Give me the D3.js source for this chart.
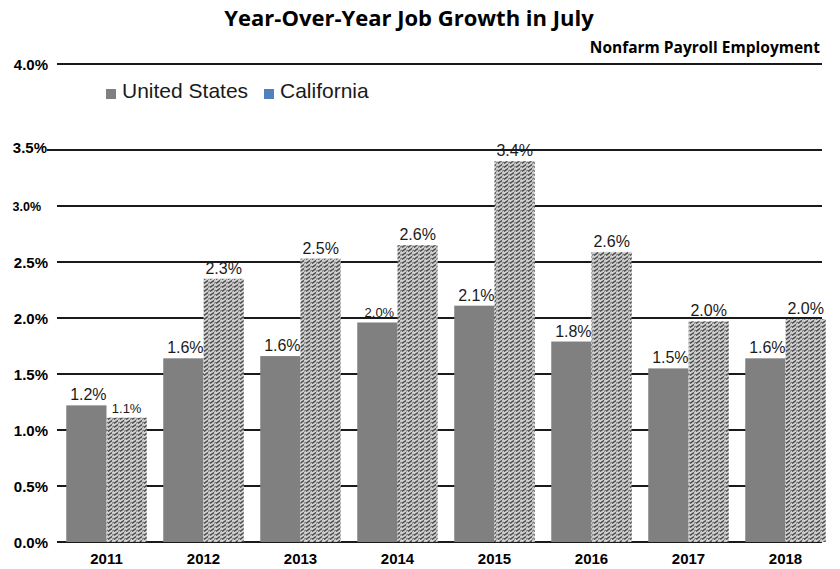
<!DOCTYPE html>
<html>
<head>
<meta charset="utf-8">
<style>
  body { margin: 0; background: #fff; }
  svg text { font-family: "Liberation Sans", Arial, sans-serif; }
</style>
</head>
<body>
<svg id="chart" width="840" height="569"></svg>
<script src="https://cdnjs.cloudflare.com/ajax/libs/d3/7.8.5/d3.min.js"></script>
<script>
var years = ["2011", "2012", "2013", "2014", "2015", "2016", "2017", "2018"];
var usValues = [1.22, 1.64, 1.66, 1.96, 2.11, 1.79, 1.55, 1.64];
var caValues = [1.11, 2.35, 2.53, 2.65, 3.40, 2.59, 1.97, 1.99];
var usLabels = ["1.2%", "1.6%", "1.6%", "2.0%", "2.1%", "1.8%", "1.5%", "1.6%"];
var caLabels = ["1.1%", "2.3%", "2.5%", "2.6%", "3.4%", "2.6%", "2.0%", "2.0%"];
var yTicks = [0, 0.5, 1.0, 1.5, 2.0, 2.5, 3.0, 3.5, 4.0];
var yTickLabels = ["0.0%", "0.5%", "1.0%", "1.5%", "2.0%", "2.5%", "3.0%", "3.5%", "4.0%"];
var seriesNames = ["United States", "California"];

var svg = d3.select("#chart");

// the top 4.0% line sits closer than the rest in the original, so the scale bends there
var y = d3.scaleLinear().domain([0, 3.5, 4.0]).range([542, 150, 64]);
var x = d3.scaleBand().domain(years).range([58, 834]).paddingInner(0.17).paddingOuter(0.085);
var half = x.bandwidth() / 2;

// hatch pattern for California bars
var defs = svg.append("defs");
var pat = defs.append("pattern")
  .attr("id", "hatch")
  .attr("patternUnits", "userSpaceOnUse")
  .attr("width", 6).attr("height", 4);
pat.append("rect").attr("width", 6).attr("height", 4).attr("fill", "#d4d4d4");
pat.append("path").attr("d", "M0,3.5 L4,0.5").attr("stroke", "#4a4a4a").attr("stroke-width", 1.5);
pat.append("path").attr("d", "M4,3.5 L6,2").attr("stroke", "#7a7a7a").attr("stroke-width", 1.2);

// title
svg.append("text")
  .attr("x", 409).attr("y", 26)
  .attr("text-anchor", "middle")
  .style("font-family", "'Open Sans', sans-serif")
  .style("font-weight", "bold").style("font-size", "22px")
  .text("Year-Over-Year Job Growth in July");

svg.append("text")
  .attr("x", 820).attr("y", 53)
  .attr("text-anchor", "end")
  .style("font-family", "'Open Sans', sans-serif")
  .style("font-weight", "bold").style("font-size", "15.5px")
  .text("Nonfarm Payroll Employment");

// gridlines
svg.append("g").selectAll("line")
  .data(yTicks)
  .join("line")
  .attr("x1", d => d === 3.5 ? 47 : 57)
  .attr("x2", 822)
  .attr("y1", d => y(d)).attr("y2", d => y(d))
  .attr("stroke", "#1a1a1a")
  .attr("stroke-width", 2);

// y tick labels
svg.append("g").selectAll("text")
  .data(yTicks)
  .join("text")
  .attr("x", d => d === 3.0 ? 41 : (d === 3.5 ? 47 : 48))
  .attr("y", d => y(d) + (d === 3.5 ? 3 : (d === 3.0 ? 4.5 : 5.5)))
  .attr("text-anchor", "end")
  .style("font-weight", "bold")
  .style("font-size", d => d === 3.0 ? "12.5px" : "15px")
  .text((d, i) => yTickLabels[i]);

// bars
var bars = svg.append("g");
bars.selectAll("rect.us")
  .data(years)
  .join("rect")
  .attr("class", "us")
  .attr("x", d => x(d))
  .attr("width", half)
  .attr("y", (d, i) => y(usValues[i]))
  .attr("height", (d, i) => y(0) - y(usValues[i]))
  .attr("fill", "#808080");

bars.selectAll("rect.ca")
  .data(years)
  .join("rect")
  .attr("class", "ca")
  .attr("x", d => x(d) + half)
  .attr("width", half)
  .attr("y", (d, i) => y(caValues[i]))
  .attr("height", (d, i) => y(0) - y(caValues[i]))
  .attr("fill", "url(#hatch)");

// value labels
var small = { "0-1": true, "3-0": true };
svg.append("g").selectAll("text")
  .data(years)
  .join("text")
  .attr("x", d => x(d) + half / 2 + 2)
  .attr("y", (d, i) => y(usValues[i]) - 5)
  .attr("text-anchor", "middle")
  .style("font-size", (d, i) => small[i + "-0"] ? "13px" : "16px")
  .attr("fill", "#1a1a1a")
  .text((d, i) => usLabels[i]);

svg.append("g").selectAll("text")
  .data(years)
  .join("text")
  .attr("x", d => x(d) + half * 1.5)
  .attr("y", (d, i) => y(caValues[i]) - 5)
  .attr("text-anchor", "middle")
  .style("font-size", (d, i) => small[i + "-1"] ? "13px" : "16px")
  .attr("fill", "#1a1a1a")
  .text((d, i) => caLabels[i]);

// x labels
svg.append("g").selectAll("text")
  .data(years)
  .join("text")
  .attr("x", d => x(d) + half)
  .attr("y", 564)
  .attr("text-anchor", "middle")
  .style("font-weight", "bold").style("font-size", "15px")
  .text(d => d);

// legend
var legendX = [106, 264];
var legendColors = ["#808080", "#4f81bd"];
var lg = svg.append("g").selectAll("g")
  .data(seriesNames)
  .join("g")
  .attr("transform", (d, i) => "translate(" + legendX[i] + ",89)");
lg.append("rect").attr("width", 10).attr("height", 10).attr("fill", (d, i) => legendColors[i]);
lg.append("text")
  .attr("x", 16).attr("y", 9)
  .style("font-size", "21px")
  .attr("fill", "#1a1a1a")
  .text(d => d);
</script>
</body>
</html>
